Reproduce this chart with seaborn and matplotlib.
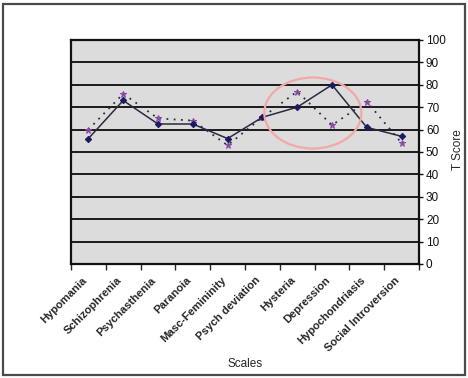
import numpy as np
import pandas as pd
import matplotlib
matplotlib.use('Agg')
import matplotlib.pyplot as plt
from matplotlib.patches import Ellipse, Rectangle
import seaborn as sns

# =========== DATA =============
scales = ['Hypomania', 'Schizophrenia', 'Psychasthenia', 'Paranoia', 'Masc-Femininity',
          'Psych deviation', 'Hysteria', 'Depression', 'Hypochondriasis', 'Social Introversion']
score_solid = [56, 73, 62.5, 62.5, 56, 65.5, 70, 80, 61, 57]
score_dotted = [60, 76, 65, 64, 53, 65.5, 77, 62, 72.5, 54]
y_ticks = list(range(0, 101, 10))

df = pd.DataFrame({'scale': scales, 'solid': score_solid, 'dotted': score_dotted})

# =========== PLOT =============
sns.set_style('white')
plt.rcParams['font.family'] = ['Liberation Sans', 'DejaVu Sans']

fig = plt.figure(figsize=(4.68, 3.78), dpi=100)
ax = fig.add_axes([71 / 468, 1 - 264 / 378, 348 / 468, 224 / 378])
ax.set_facecolor('#dcdcdc')

sns.lineplot(data=df, x='scale', y='dotted', ax=ax, color='#2a2a3a', linestyle=(0, (1, 3)),
             lw=1.3, marker='*', markersize=5, markerfacecolor='#8a4aa8',
             markeredgecolor='#8a4aa8', sort=False)
sns.lineplot(data=df, x='scale', y='solid', ax=ax, color='#2a2a40', lw=1.1,
             marker='D', markersize=3.2, markerfacecolor='#1a1a60',
             markeredgecolor='#1a1a60', sort=False)

# highlight circle
ax.add_patch(Ellipse((6.45, 67.4), 2.79, 31.7, fill=False, ec='#f2a8a8', lw=1.6, zorder=5))

ax.set_xlim(-0.5, len(scales) - 0.5)
ax.set_ylim(0, 100)
ax.set_yticks(y_ticks)
for y in y_ticks[1:-1]:
    ax.axhline(y, color='#1a1a1a', lw=1.4, zorder=1)

ax.yaxis.tick_right()
ax.yaxis.set_label_position('right')
ax.tick_params(axis='y', which='major', length=3, width=1, direction='out',
               labelsize=8.5, pad=2, right=True, left=False, colors='#111111')

# labels sit a little left of the category centre, like the Excel original
ax.set_xticks(np.arange(len(scales)) - 0.2)
ax.set_xticklabels(scales, rotation=45, ha='right', rotation_mode='anchor',
                   fontsize=8, fontweight='bold')
ax.set_xticks(np.arange(-0.5, len(scales), 1), minor=True)
ax.tick_params(axis='x', which='major', length=0, pad=8)
ax.tick_params(axis='x', which='minor', length=4, width=1, direction='out', bottom=True)

for s in ax.spines.values():
    s.set_linewidth(1.6)
    s.set_color('#111111')

ax.set_xlabel('Scales', fontsize=8.5)
ax.xaxis.set_label_coords(0.5, -0.42)
ax.set_ylabel('T Score', fontsize=8.5, rotation=90)
ax.yaxis.set_label_coords(1.095, 0.51)

# outer frame around the picture
fig.patches.append(Rectangle((2.5 / 468, 3.5 / 378), 462.5 / 468, 371 / 378,
                             transform=fig.transFigure, fill=False, ec='#4a4a4a', lw=1.6))

plt.savefig('out.png', dpi=100)
